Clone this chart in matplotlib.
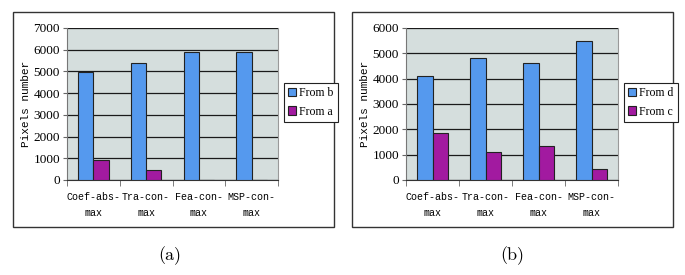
import numpy as np
import matplotlib.pyplot as plt
from matplotlib.patches import Rectangle

# data
categories = ["Coef-abs-\nmax", "Tra-con-\nmax", "Fea-con-\nmax", "MSP-con-\nmax"]
from_b = [4980, 5410, 5890, 5880]
from_a = [920, 460, 0, 0]
from_d = [4100, 4830, 4620, 5490]
from_c = [1850, 1090, 1330, 450]

BLUE = "#5599ee"
PURPLE = "#a21aa0"
BG = "#d5dedd"

W, H = 685, 275
fig = plt.figure(figsize=(W / 100, H / 100), dpi=100)


def fx(px):
    return px / W


def fy(py):
    return 1 - py / H


def panel(left_px, right_px, box_l, box_r, leg_x, s1, s2, names, ymax, cap, cap_x):
    # outer frame
    fig.patches.append(Rectangle((fx(box_l), fy(227)), fx(box_r - box_l), (227 - 12) / H,
                                 transform=fig.transFigure, fill=False,
                                 edgecolor="#333333", linewidth=1.0))
    ax = fig.add_axes([fx(left_px), fy(180), fx(right_px - left_px), 152 / H])
    ax.set_facecolor(BG)
    x = np.arange(len(categories))
    bw = 0.29
    b1 = ax.bar(x - bw / 2, s1, bw, color=BLUE, edgecolor="#222222", linewidth=0.8, zorder=3)
    b2 = ax.bar(x + bw / 2, s2, bw, color=PURPLE, edgecolor="#222222", linewidth=0.8, zorder=3)
    ax.set_xlim(-0.5, 3.5)
    ax.set_ylim(0, ymax)
    ax.set_yticks(np.arange(0, ymax + 1, 1000))
    ax.set_yticklabels([str(v) for v in range(0, ymax + 1, 1000)],
                       fontfamily="Liberation Serif", fontsize=9.5)
    ax.yaxis.grid(True, color="#1a1a1a", linewidth=0.9, zorder=1)
    ax.set_axisbelow(True)
    ax.set_xticks(x)
    ax.set_xticklabels(categories, fontfamily="Liberation Mono", fontsize=7.2,
                       linespacing=1.65)
    ax.tick_params(axis="x", length=0, pad=9)
    ax.set_xticks(np.arange(-0.5, 4, 1), minor=True)
    ax.tick_params(axis="x", which="minor", length=4, color="#666666")
    ax.tick_params(axis="y", length=3, color="#666666", pad=2)
    ax.spines["top"].set_visible(False)
    ax.spines["right"].set_color("#999999")
    ax.spines["left"].set_color("#777777")
    ax.spines["bottom"].set_color("#333333")
    ax.set_ylabel("Pixels number", fontfamily="Liberation Mono",
                  fontsize=8, labelpad=2)
    leg = fig.legend([b1, b2], names, loc="upper left",
                     bbox_to_anchor=(fx(leg_x), fy(83)), bbox_transform=fig.transFigure,
                     prop={"family": "Liberation Serif", "size": 8.5},
                     handlelength=0.7, handleheight=0.7, handletextpad=0.25,
                     borderpad=0.35, labelspacing=0.55, fancybox=False,
                     edgecolor="#222222", framealpha=1, borderaxespad=0)
    leg.get_frame().set_linewidth(0.8)
    fig.text(fx(cap_x), fy(256), cap, ha="center", va="center",
             fontfamily="cmr10", fontsize=13)
    return ax


panel(67, 278, 13, 334, 284, from_b, from_a, ["From b", "From a"], 7000, "(a)", 170)
panel(406, 618, 352, 673, 624, from_d, from_c, ["From d", "From c"], 6000, "(b)", 512)

fig.savefig("out.png", dpi=100)
